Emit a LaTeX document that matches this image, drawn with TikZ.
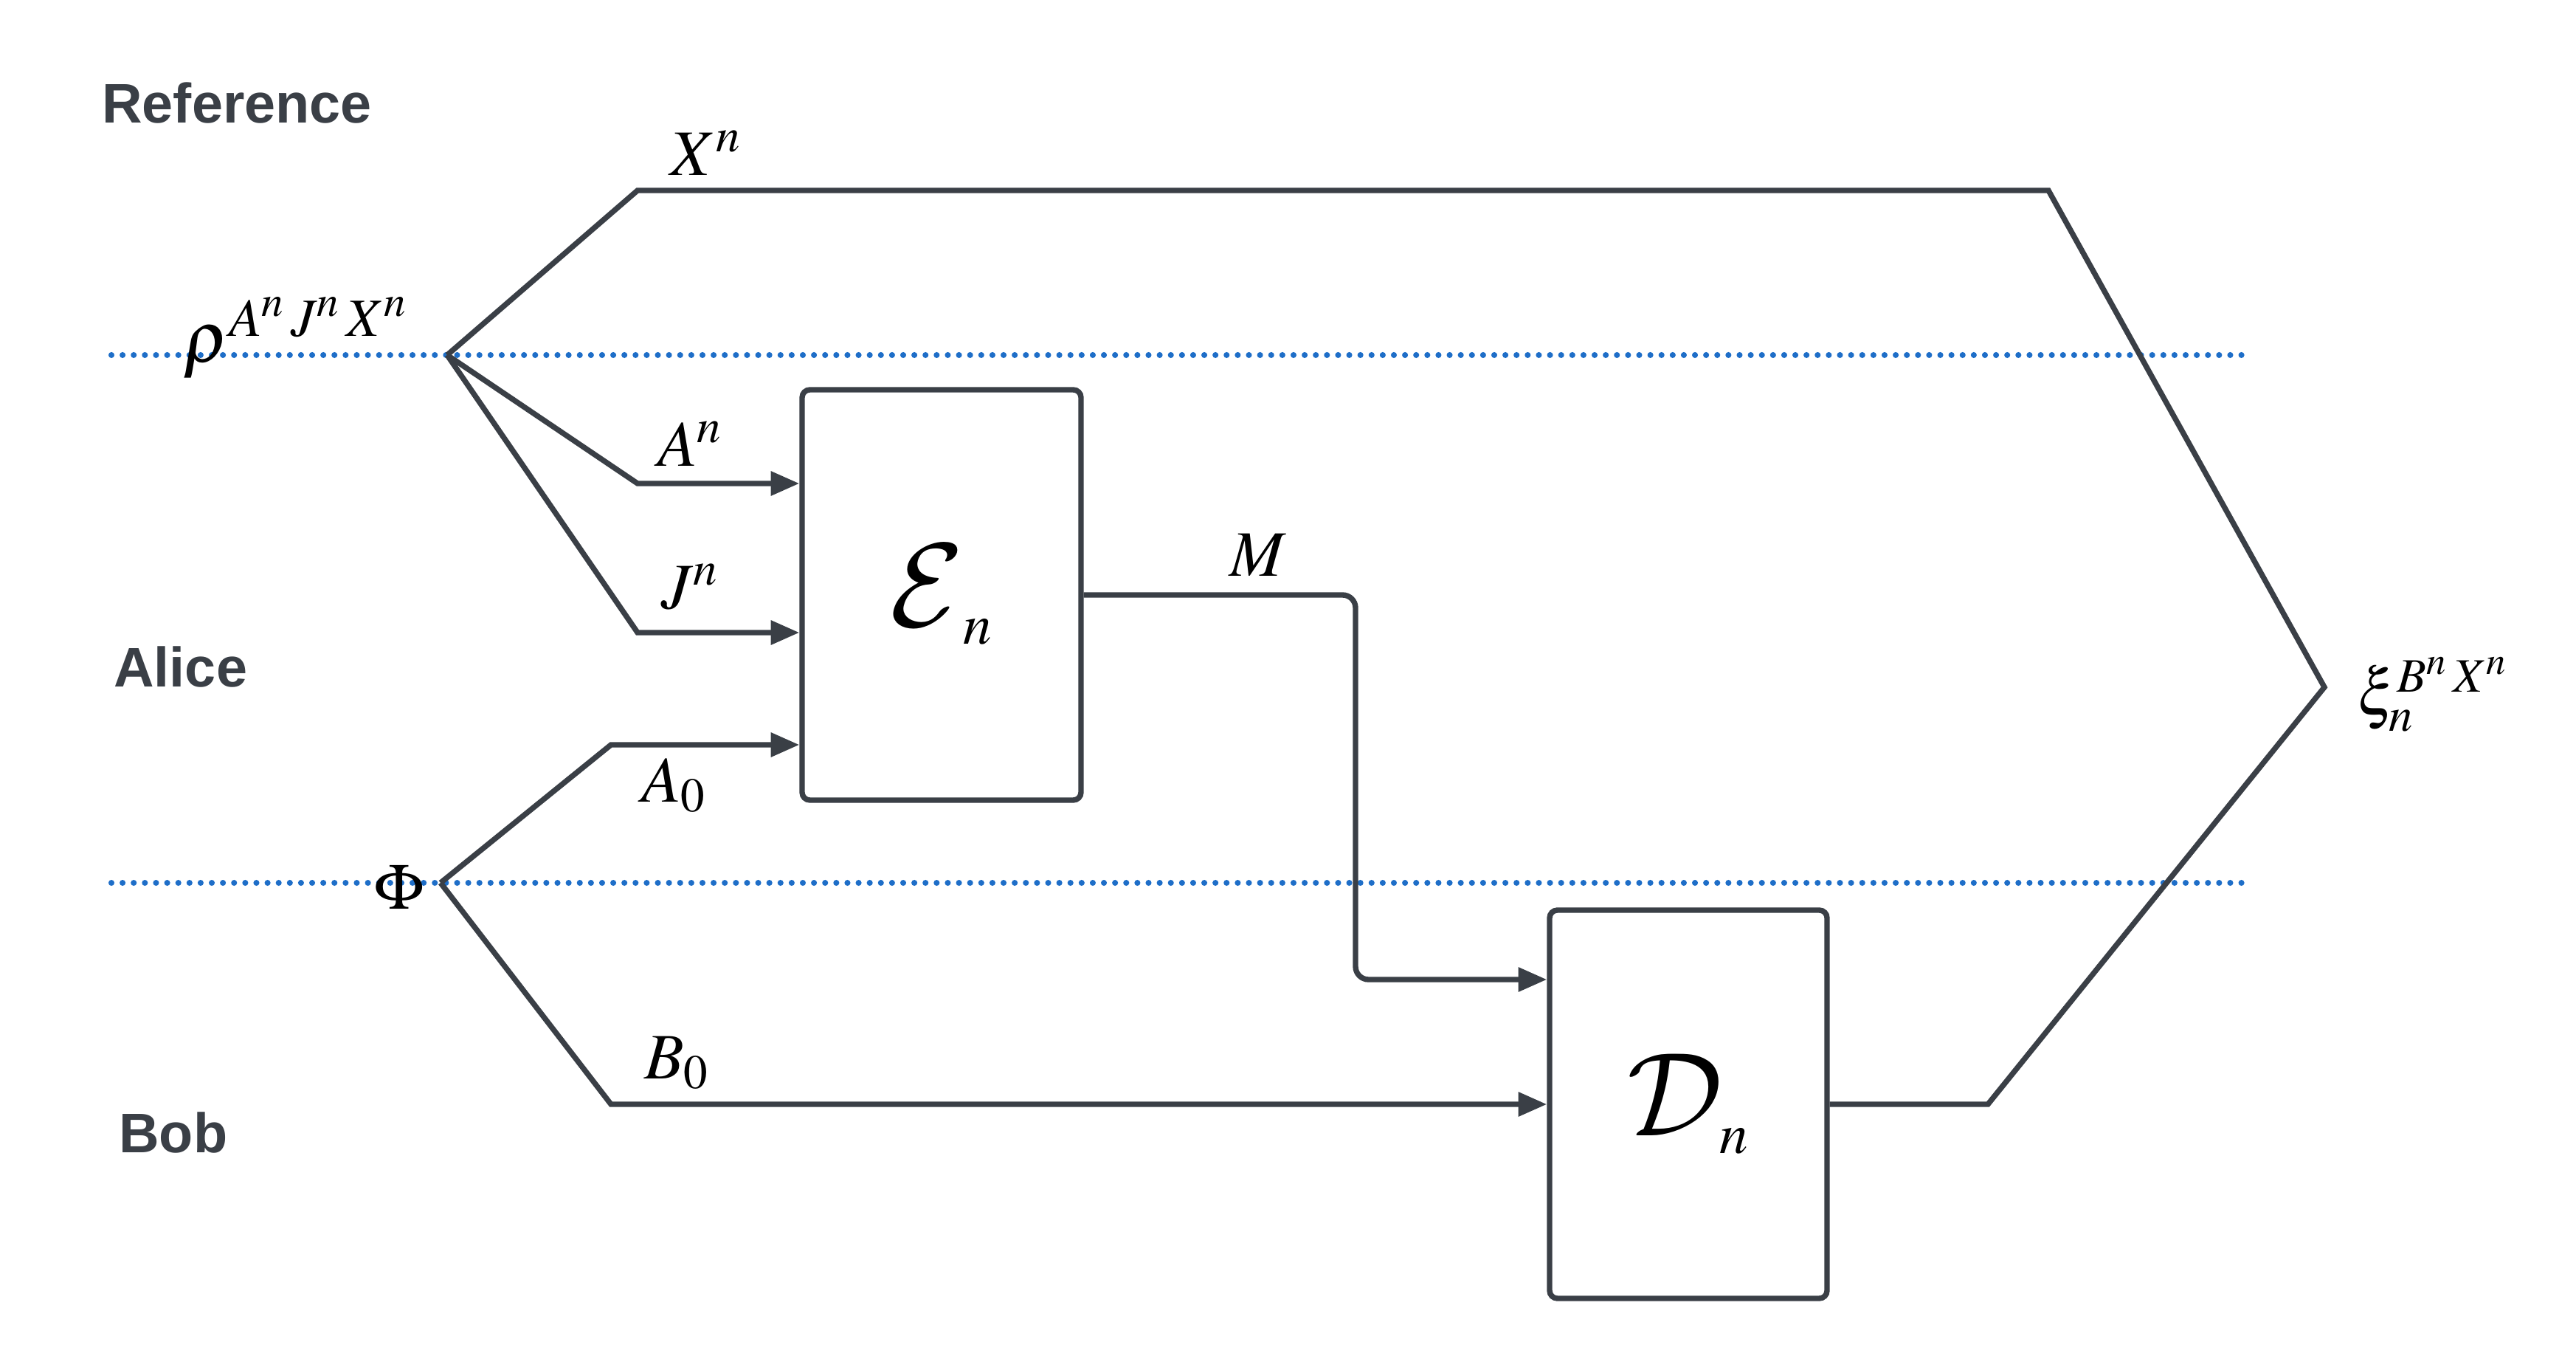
\documentclass[tikz,border=0pt]{standalone}
\usepackage[no-math]{fontspec}
\usepackage{mathptmx}
\DeclareFontFamily{OMS}{bigcal}{\skewchar\font48}
\DeclareFontShape{OMS}{bigcal}{m}{n}{<->cmsy10}{}
\DeclareMathAlphabet{\mathcal}{OMS}{bigcal}{m}{n}
\newfontfamily\lanefont{Liberation Sans}
\usetikzlibrary{arrows.meta,positioning,calc}
\definecolor{wirecol}{RGB}{58,63,70}
\definecolor{cutblue}{RGB}{30,110,200}
\tikzset{
  wire/.style={line width=2.1pt,color=wirecol},
  arr/.style={wire,-{Triangle[length=11pt,width=9pt]}},
  cutline/.style={cutblue,line width=2.3pt,line cap=round,dash pattern=on 0pt off 4.3pt},
  procbox/.style={rectangle,rounded corners=3pt,draw=wirecol,line width=2.1pt,fill=white,font=\fontsize{46}{52}\selectfont},
  lane/.style={anchor=west,text=wirecol,font=\lanefont\bfseries\fontsize{21.5}{25}\selectfont},
  lbl/.style={font=\fontsize{25}{29}\selectfont}
}
\newcommand{\subn}{\mbox{\fontsize{22}{24}\selectfont$n$}}

\begin{document}
\begin{tikzpicture}
  \useasboundingbox (0,0) rectangle (34.91,18.36);
  % cuts between the parties
  \coordinate (cutAL) at (1.51,13.55);
  \coordinate (cutAR) at (30.39,13.55);
  \coordinate (cutBL) at (1.51,6.40);
  \coordinate (cutBR) at (30.39,6.40);
  \draw[cutline] (cutAL)--(cutAR);
  \draw[cutline] (cutBL)--(cutBR);
  % parties
  \node[lane] (ref) at (1.26,16.96) {Reference};
  \node[lane] (alice) at (1.42,9.32) {Alice};
  \node[lane] (bob) at (1.49,3.02) {Bob};
  % encoder and decoder
  \node[procbox,minimum width=3.78cm,minimum height=5.56cm] (enc) at (12.76,10.30) {$\mathcal{E}_{\,\subn}$};
  \node[procbox,minimum width=3.76cm,minimum height=5.26cm] (dec) at (22.88,3.40) {$\mathcal{D}_{\subn}$};
  % wire bends
  \coordinate (rho) at (6.06,13.55);
  \coordinate (phi) at (5.97,6.40);
  \coordinate (xTL) at (8.64,15.78);
  \coordinate (xTR) at (27.76,15.78);
  \coordinate (xi) at (31.50,9.05);
  \coordinate (bR) at (26.94,3.40);
  \coordinate (aK) at (8.64,11.81);
  \coordinate (jK) at (8.64,9.79);
  \coordinate (a0K) at (8.28,8.27);
  \coordinate (b0K) at (8.28,3.40);
  \coordinate (mK) at (18.37,10.30);
  % wires
  \draw[wire] (rho)--(xTL)--(xTR)--(xi)--(bR)--(dec.east);
  \draw[arr] (rho)--(aK)--(aK-|enc.west);
  \draw[arr] (rho)--(jK)--(jK-|enc.west);
  \draw[arr] (phi)--(a0K)--(a0K-|enc.west);
  \draw[arr] (phi)--(b0K)--(dec.west);
  \draw[arr,rounded corners=5pt] (enc.east)--(mK)|-([yshift=1.69cm]dec.west);
  % labels
  \node[lbl] (xlab) at (9.57,16.29) {$X^n$};
  \node[lbl,anchor=base east,font=\fontsize{28}{32}\selectfont] (rholab) at (5.66,13.45) {$\rho^{A^n\,J^n\,X^n}$};
  \node[lbl] (alab) at (9.35,12.35) {$A^n$};
  \node[lbl] (jlab) at (9.35,10.41) {$J^n$};
  \node[lbl] (a0lab) at (9.13,7.72) {$A_0$};
  \node[lbl] (b0lab) at (9.17,3.96) {$B_0$};
  \node[lbl] (mlab) at (17.05,10.84) {$M$};
  \node[lbl] (philab) at (5.41,6.34) {$\Phi$};
  \node[lbl,anchor=west] (xilab) at (31.82,8.95) {$\xi_n^{B^n\,X^n}$};
\end{tikzpicture}
\end{document}
